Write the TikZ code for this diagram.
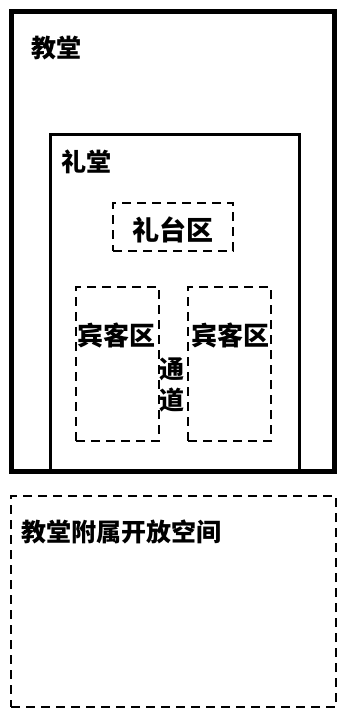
\documentclass[tikz,border=0pt]{standalone}
\usepackage{fontspec}
\newfontfamily\cjk{Noto Sans CJK SC}
\begin{document}
\begin{tikzpicture}[x=1pt,y=-1pt,
  solidbox/.style={draw, inner sep=0pt, line join=miter},
  dashbox/.style={draw, dash pattern=on 9pt off 6pt, line width=2pt, inner sep=0pt},
  lbl/.style={inner sep=0pt, font=\cjk\bfseries\fontsize{25}{31}\selectfont}]
\useasboundingbox (0,0) rectangle (338,710);
% outer church
\node[solidbox, line width=5pt, minimum width=323pt, minimum height=460pt] (church) at (172.5,241) {};
% hall
\node[solidbox, line width=3pt, minimum width=249pt, minimum height=337pt] (hall) at (174.5,302.5) {};
% stage
\node[dashbox, minimum width=120pt, minimum height=48pt] (stage) at (173,227) {};
% guest areas
\node[dashbox, minimum width=83pt, minimum height=154pt] (guestL) at (117.5,364) {};
\node[dashbox, minimum width=83pt, minimum height=154pt] (guestR) at (229.5,364) {};
% open space
\node[dashbox, minimum width=325pt, minimum height=211pt] (open) at (173.5,601.5) {};
% labels
\node[lbl, anchor=west] (tChurch) at (31,48.5) {教堂};
\node[lbl, anchor=west] (tHall) at (61,161.5) {礼堂};
\node[lbl, font=\cjk\bfseries\fontsize{27}{31}\selectfont] (tStage) at (172.5,230) {礼台区};
\node[lbl, font=\cjk\bfseries\fontsize{26}{31}\selectfont] (tGuestL) at (116.5,335.5) {宾客区};
\node[lbl, font=\cjk\bfseries\fontsize{26}{31}\selectfont] (tGuestR) at (230,335.5) {宾客区};
\node[lbl, align=center] (tAisle) at (172,385) {通\\道};
\node[lbl, anchor=west] (tOpen) at (21,531.5) {教堂附属开放空间};
\end{tikzpicture}
\end{document}
